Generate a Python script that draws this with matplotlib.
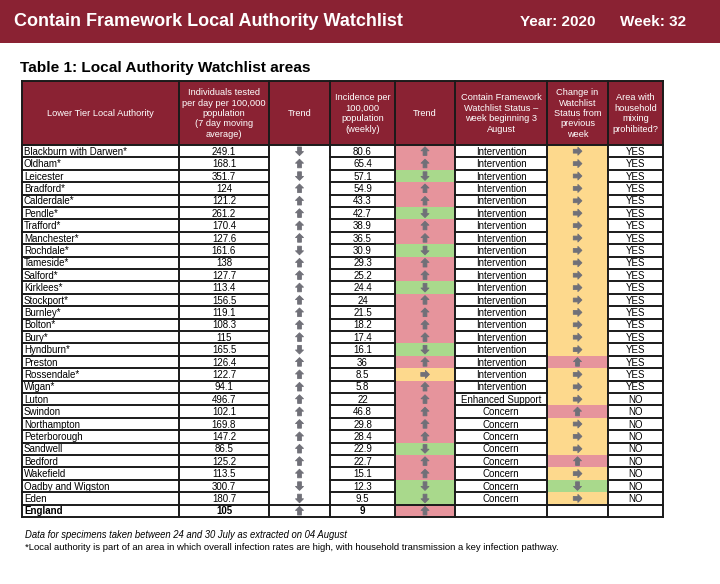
"""Tabla del watchlist de autoridades locales (Contain Framework, semana 32 de 2020)."""

import matplotlib
matplotlib.use("Agg")
import matplotlib.pyplot as plt
from matplotlib.patches import Rectangle, Polygon

plt.rcParams["font.family"] = ["Liberation Sans", "DejaVu Sans"]

# Datos de la tabla
areas = [
    "Blackburn with Darwen*", "Oldham*", "Leicester", "Bradford*", "Calderdale*",
    "Pendle*", "Trafford*", "Manchester*", "Rochdale*", "Tameside*", "Salford*",
    "Kirklees*", "Stockport*", "Burnley*", "Bolton*", "Bury*", "Hyndburn*",
    "Preston", "Rossendale*", "Wigan*", "Luton", "Swindon", "Northampton",
    "Peterborough", "Sandwell", "Bedford", "Wakefield", "Oadby and Wigston",
    "Eden", "England",
]
tested = [
    "249.1", "168.1", "351.7", "124", "121.2", "261.2", "170.4", "127.6", "161.6",
    "138", "127.7", "113.4", "156.5", "119.1", "108.3", "115", "165.5", "126.4",
    "122.7", "94.1", "496.7", "102.1", "169.8", "147.2", "86.5", "125.2", "113.5",
    "300.7", "180.7", "105",
]
tested_trend = list("DUDUUUUUDUUUUUUUDUUUUUUUUUUDDU")
incidence = [
    "80.6", "65.4", "57.1", "54.9", "43.3", "42.7", "38.9", "36.5", "30.9", "29.3",
    "25.2", "24.4", "24", "21.5", "18.2", "17.4", "16.1", "36", "8.5", "5.8", "22",
    "46.8", "29.8", "28.4", "22.9", "22.7", "15.1", "12.3", "9.5", "9",
]
incidence_trend = list("UUDUUDUUDUUDUUUUDUFUUUUUDUUDDU")
status = ["Intervention"] * 20 + ["Enhanced Support"] + ["Concern"] * 8 + [""]
change = list("FFFFFFFFFFFFFFFFFUFFFUFFFUFDF") + [""]
mixing = ["YES"] * 20 + ["NO"] * 9 + [""]

headers = [
    "Lower Tier Local Authority",
    "Individuals tested\nper day per 100,000\npopulation\n(7 day moving\naverage)",
    "Trend",
    "Incidence per\n100,000\npopulation\n(weekly)",
    "Trend",
    "Contain Framework\nWatchlist Status \u2013\nweek beginning 3\nAugust",
    "Change in\nWatchlist\nStatus from\nprevious\nweek",
    "Area with\nhousehold\nmixing\nprohibited?",
]

MAROON = "#8a2233"
TREND_COLORS = {"U": "#e6949c", "D": "#a9d98c", "F": "#fdd98d"}
ARROW_GREY = "#707078"

# Geometria de la tabla (en pixeles)
col_edges = [22, 179, 269, 330, 395, 455, 547, 608, 663]
head_top, head_bottom = 81, 145
row_h = 12.4


def draw_arrow(ax, cx, cy, direction):
    """Dibuja una flecha de bloque gris centrada en (cx, cy)."""
    shape = [(0, -4.4), (4.0, -0.4), (1.9, -0.4), (1.9, 4.2),
             (-1.9, 4.2), (-1.9, -0.4), (-4.0, -0.4)]
    if direction == "D":
        shape = [(x, -y) for x, y in shape]
    elif direction == "F":
        shape = [(-y, x) for x, y in shape]
    ax.add_patch(Polygon([(cx + x, cy + y) for x, y in shape], closed=True,
                         facecolor=ARROW_GREY, edgecolor=ARROW_GREY, lw=0.6,
                         joinstyle="round", zorder=4))


fig = plt.figure(figsize=(7.2, 5.84), dpi=100)
ax = fig.add_axes([0, 0, 1, 1])
ax.set_xlim(0, 720)
ax.set_ylim(584, 0)
ax.axis("off")

# Cabecera
ax.add_patch(Rectangle((0, 0), 720, 43, color=MAROON, lw=0))
ax.text(14, 21, "Contain Framework Local Authority Watchlist", color="white",
        fontsize=13, fontweight="bold", va="center", ha="left")
ax.text(520, 22, "Year: 2020", color="white", fontsize=11, fontweight="bold",
        va="center", ha="left")
ax.text(620, 22, "Week: 32", color="white", fontsize=11, fontweight="bold",
        va="center", ha="left")
ax.text(20, 68, "Table 1: Local Authority Watchlist areas", fontsize=11.1,
        fontweight="bold", va="center", ha="left")

# Fila de encabezados
left, right = col_edges[0], col_edges[-1]
ax.add_patch(Rectangle((left, head_top), right - left, head_bottom - head_top,
                       color=MAROON, lw=0))
for i, h in enumerate(headers):
    cx = (col_edges[i] + col_edges[i + 1]) / 2
    ax.text(cx, (head_top + head_bottom) / 2 + 0.5, h, color="white", fontsize=6.7,
            ha="center", va="center", linespacing=1.2)

n = len(areas)
bottom = head_bottom + n * row_h

# Columnas de tendencia coloreadas y contenido de las filas
for i in range(n):
    y0 = head_bottom + i * row_h
    cy = y0 + row_h / 2
    ax.add_patch(Rectangle((col_edges[4], y0), col_edges[5] - col_edges[4], row_h,
                           color=TREND_COLORS[incidence_trend[i]], lw=0, zorder=1))
    draw_arrow(ax, (col_edges[4] + col_edges[5]) / 2, cy, incidence_trend[i])
    if change[i]:
        ax.add_patch(Rectangle((col_edges[6], y0), col_edges[7] - col_edges[6], row_h,
                               color=TREND_COLORS[change[i]], lw=0, zorder=1))
        draw_arrow(ax, (col_edges[6] + col_edges[7]) / 2, cy, change[i])
    draw_arrow(ax, (col_edges[2] + col_edges[3]) / 2, cy, tested_trend[i])

    weight = "bold" if areas[i] == "England" else "normal"
    ax.text(col_edges[0] + 2, cy + 0.5, areas[i], fontsize=7, ha="left",
            va="center", fontweight=weight, zorder=5)
    for col, val in ((1, tested[i]), (3, incidence[i]), (5, status[i]), (7, mixing[i])):
        ax.text((col_edges[col] + col_edges[col + 1]) / 2, cy + 0.5, val,
                fontsize=7, ha="center", va="center", fontweight=weight, zorder=5)

# Lineas de la tabla
line_kw = dict(color="#1a1a1a", lw=1.4, zorder=6)
for i in range(1, n):
    y = head_bottom + i * row_h
    if i == n - 1:
        ax.plot([left, right], [y, y], **line_kw)
        continue
    for col in (0, 1, 3, 5, 7):
        ax.plot([col_edges[col], col_edges[col + 1]], [y, y], **line_kw)
for x in col_edges:
    ax.plot([x, x], [head_top, bottom], **line_kw)
ax.plot([left, right], [head_top, head_top], **line_kw)
ax.plot([left, right], [head_bottom, head_bottom], **line_kw)
ax.plot([left, right], [bottom, bottom], **line_kw)

# Notas al pie
ax.text(25, 535, "Data for specimens taken between 24 and 30 July as extracted on 04 August",
        fontsize=6.85, style="italic", va="center", ha="left")
ax.text(25, 548, "*Local authority is part of an area in which overall infection rates are high, "
        "with household transmission a key infection pathway.",
        fontsize=6.8, va="center", ha="left")

fig.savefig("out.png", dpi=100)
